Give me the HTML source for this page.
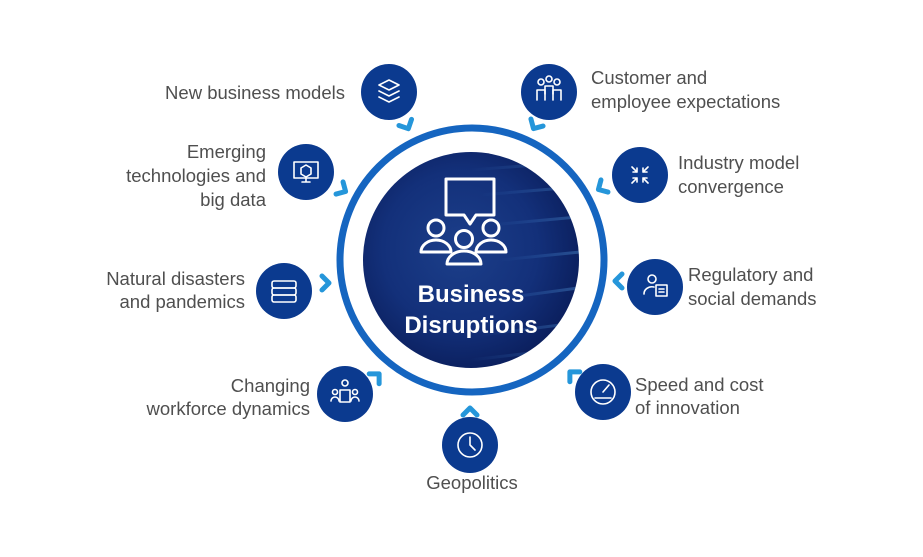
<!DOCTYPE html>
<html><head><meta charset="utf-8"><style>
html,body{margin:0;padding:0;background:#fff;}
svg{display:block;}
text{font-family:"Liberation Sans",sans-serif;font-size:18.5px;fill:#4f4f4f;}
.c{fill:#0b3a8f;}
.ic{fill:none;stroke:#fff;stroke-width:1.6;stroke-linecap:round;stroke-linejoin:round;}
.ch{fill:none;stroke:#2596da;stroke-width:5;stroke-linejoin:round;stroke-linecap:round;}
</style></head><body>
<svg width="923" height="557" viewBox="0 0 923 557">
<defs>
<radialGradient id="bg" cx="0.45" cy="0.45" r="0.6">
<stop offset="0" stop-color="#1c3f8a"/><stop offset="0.6" stop-color="#13307a"/><stop offset="1" stop-color="#0a1d5a"/>
</radialGradient>
<linearGradient id="streak" x1="0" y1="0" x2="1" y2="0">
<stop offset="0" stop-color="#3b7cc9" stop-opacity="0"/><stop offset="1" stop-color="#5aa0e0" stop-opacity="0.5"/>
</linearGradient>
<clipPath id="cc"><circle cx="471" cy="260" r="108"/></clipPath>
</defs>
<circle cx="472" cy="260" r="132" fill="none" stroke="#1565c0" stroke-width="7"/>
<circle cx="471" cy="260" r="108" fill="url(#bg)"/>
<g clip-path="url(#cc)" stroke="url(#streak)" stroke-width="3">
<line x1="470" y1="170" x2="600" y2="160"/><line x1="480" y1="195" x2="600" y2="185"/>
<line x1="490" y1="225" x2="600" y2="215"/><line x1="500" y1="260" x2="600" y2="250"/>
<line x1="490" y1="300" x2="600" y2="285"/><line x1="480" y1="335" x2="600" y2="320"/>
<line x1="470" y1="360" x2="600" y2="345"/>
</g>
<g fill="none" stroke="#fff" stroke-width="3" stroke-linejoin="round">
<path d="M446 179 h48 v36 h-18 l-6 9 l-6 -9 h-18 z"/>
<circle cx="436" cy="228" r="8"/><path d="M421 252 a15 12 0 0 1 30 0 z"/>
<circle cx="491" cy="228" r="8"/><path d="M476 252 a15 12 0 0 1 30 0 z"/>
<circle cx="464" cy="239" r="8.5"/><path d="M447 264 a17 13 0 0 1 34 0 z"/>
</g>
<text x="471" y="302" text-anchor="middle" style="font-size:24px;font-weight:bold;fill:#fff">Business</text>
<text x="471" y="333" text-anchor="middle" style="font-size:24px;font-weight:bold;fill:#fff">Disruptions</text>

<circle class="c" cx="389" cy="92" r="28"/>
<circle class="c" cx="549" cy="92" r="28"/>
<circle class="c" cx="306" cy="172" r="28"/>
<circle class="c" cx="640" cy="175" r="28"/>
<circle class="c" cx="284" cy="291" r="28"/>
<circle class="c" cx="655" cy="287" r="28"/>
<circle class="c" cx="345" cy="394" r="28"/>
<circle class="c" cx="603" cy="392" r="28"/>
<circle class="c" cx="470" cy="445" r="28"/>

<g class="ch">
<path d="M-7 -4 L0 3 L7 -4" transform="translate(407,126) rotate(-26)"/>
<path d="M-7 -4 L0 3 L7 -4" transform="translate(535,126) rotate(30)"/>
<path d="M-7 -4 L0 3 L7 -4" transform="translate(343,190) rotate(-60)"/>
<path d="M-7 -4 L0 3 L7 -4" transform="translate(601,188) rotate(60)"/>
<path d="M-7 -4 L0 3 L7 -4" transform="translate(326,283) rotate(-90)"/>
<path d="M-7 -4 L0 3 L7 -4" transform="translate(618,281) rotate(90)"/>
<path d="M-7 -4 L0 3 L7 -4" transform="translate(377,376) rotate(-135)"/>
<path d="M-7 -4 L0 3 L7 -4" transform="translate(572,374) rotate(135)"/>
<path d="M-7 -4 L0 3 L7 -4" transform="translate(470,411) rotate(180)"/>
</g>

<g class="ic">
<path d="M379 85 l10 -5 l10 5 l-10 5 z"/><path d="M379 91 l10 5 l10 -5"/><path d="M379 97 l10 5 l10 -5"/>
<circle cx="541" cy="82" r="3"/><circle cx="549" cy="79" r="3"/><circle cx="557" cy="82" r="3"/>
<path d="M537 100 v-10 h8 v10"/><path d="M553 100 v-10 h8 v10"/><path d="M545 94 v-8 h8 v8"/>
<rect x="294" y="162" width="24" height="16"/><path d="M302 182 h8 M306 178 v4"/><path d="M301 168 l5 -3 l5 3 v6 l-5 3 l-5 -3 z"/>
<path d="M632 167 l5 5 M637 168 v4 h-4 M648 167 l-5 5 M643 168 v4 h4 M632 183 l5 -5 M633 178 h4 v4 M648 183 l-5 -5 M647 178 h-4 v4"/>
<rect x="272" y="281" width="24" height="7" rx="2"/><rect x="272" y="288" width="24" height="7" rx="2"/><rect x="272" y="295" width="24" height="7" rx="2"/>
<circle cx="652" cy="279" r="4"/><path d="M644 294 a8 7 0 0 1 10 -7"/><rect x="656" y="285" width="11" height="11"/><path d="M659 289 h5 M659 292 h5"/>
<circle cx="345" cy="383" r="3"/><rect x="340" y="390" width="10" height="12"/><circle cx="335" cy="392" r="2.5"/><circle cx="355" cy="392" r="2.5"/><path d="M331 401 a4 4 0 0 1 8 0 M351 401 a4 4 0 0 1 8 0"/>
<circle cx="603" cy="392" r="12"/><path d="M603 392 l6 -7 M595 398 h16"/>
<circle cx="470" cy="445" r="12"/><path d="M470 437 v8 l5 5"/>
</g>

<text x="345" y="99" text-anchor="end">New business models</text>
<text x="591" y="84">Customer and</text>
<text x="591" y="108">employee expectations</text>
<text x="266" y="158" text-anchor="end">Emerging</text>
<text x="266" y="182" text-anchor="end">technologies and</text>
<text x="266" y="206" text-anchor="end">big data</text>
<text x="678" y="169">Industry model</text>
<text x="678" y="193">convergence</text>
<text x="245" y="285" text-anchor="end">Natural disasters</text>
<text x="245" y="308" text-anchor="end">and pandemics</text>
<text x="688" y="281">Regulatory and</text>
<text x="688" y="305">social demands</text>
<text x="310" y="392" text-anchor="end">Changing</text>
<text x="310" y="415" text-anchor="end">workforce dynamics</text>
<text x="635" y="391">Speed and cost</text>
<text x="635" y="414">of innovation</text>
<text x="472" y="489" text-anchor="middle">Geopolitics</text>
</svg>
</body></html>
